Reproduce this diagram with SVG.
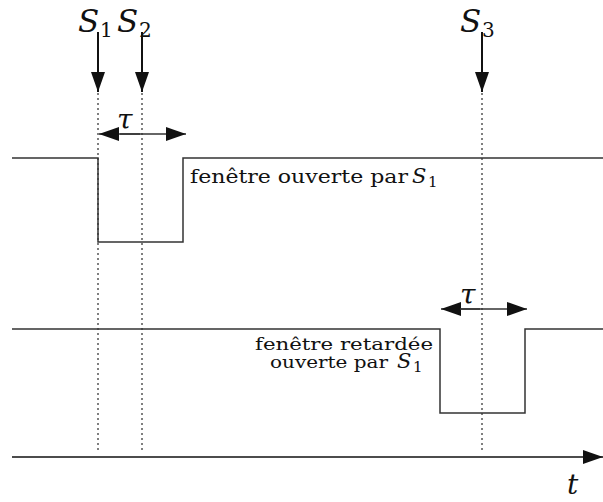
<svg xmlns="http://www.w3.org/2000/svg" width="603" height="502" viewBox="0 0 603 502">
<style>
.sig{fill:none;stroke:#333;stroke-width:1.5}
.dot{stroke:#000;stroke-width:1;stroke-dasharray:2 3}
.arr{stroke:#111;stroke-width:2}
.thin{stroke:#333;stroke-width:1.3}
.t{font-family:"DejaVu Serif","Liberation Serif",serif;fill:#111}
.m{font-family:"DejaVu Serif","Liberation Serif",serif;font-style:italic;fill:#111}
</style>
<defs>
<marker id="ah" markerWidth="20" markerHeight="14" refX="20" refY="7" orient="auto" markerUnits="userSpaceOnUse">
<path d="M0,0 L20,7 L0,14 Z" fill="#111"/>
</marker>
</defs>
<rect width="603" height="502" fill="#fff"/>
<g id="connectors">
<line class="dot" x1="98" y1="93" x2="98" y2="452"/>
<line class="dot" x1="142" y1="93" x2="142" y2="452"/>
<line class="dot" x1="482" y1="93" x2="482" y2="452"/>
<line class="arr" x1="98" y1="32" x2="98" y2="92" marker-end="url(#ah)"/>
<line class="arr" x1="142" y1="32" x2="142" y2="92" marker-end="url(#ah)"/>
<line class="arr" x1="482" y1="32" x2="482" y2="92" marker-end="url(#ah)"/>
<line class="thin" x1="140" y1="134" x2="99" y2="134" marker-end="url(#ah)"/>
<line class="thin" x1="120" y1="134" x2="186" y2="134" marker-end="url(#ah)"/>
<line class="thin" x1="480" y1="309" x2="441" y2="309" marker-end="url(#ah)"/>
<line class="thin" x1="460" y1="309" x2="527" y2="309" marker-end="url(#ah)"/>
<line class="arr" x1="12" y1="457" x2="603" y2="457" marker-end="url(#ah)" style="stroke-width:1.5"/>
</g>
<g id="signal1">
<path class="sig" d="M12,158 H98 V242 H183 V158 H603"/>
<text class="t" x="190" y="183" font-size="18" textLength="218" lengthAdjust="spacingAndGlyphs">fenêtre ouverte par</text>
<text class="m" x="412" y="183" font-size="21">S</text>
<text class="t" x="428" y="187" font-size="15">1</text>
</g>
<g id="signal2">
<path class="sig" d="M12,329 H440 V413 H525 V329 H603"/>
<text class="t" font-size="16"><tspan x="255" y="350" textLength="178" lengthAdjust="spacingAndGlyphs">fenêtre retardée</tspan><tspan x="270" y="368" textLength="118" lengthAdjust="spacingAndGlyphs">ouverte par</tspan></text>
<text class="m" x="397" y="368" font-size="21">S</text>
<text class="t" x="413" y="372" font-size="15">1</text>
</g>
<g id="labels">
<text class="m" x="78" y="32" font-size="31">S</text>
<text class="t" x="100" y="37" font-size="20">1</text>
<text class="m" x="117" y="32" font-size="31">S</text>
<text class="t" x="139" y="37" font-size="20">2</text>
<text class="m" x="460" y="32" font-size="31">S</text>
<text class="t" x="482" y="37" font-size="20">3</text>
<text class="m" x="117" y="129" font-size="28">τ</text>
<text class="m" x="460" y="304" font-size="28">τ</text>
<text class="m" x="567" y="494" font-size="28">t</text>
</g>
</svg>
